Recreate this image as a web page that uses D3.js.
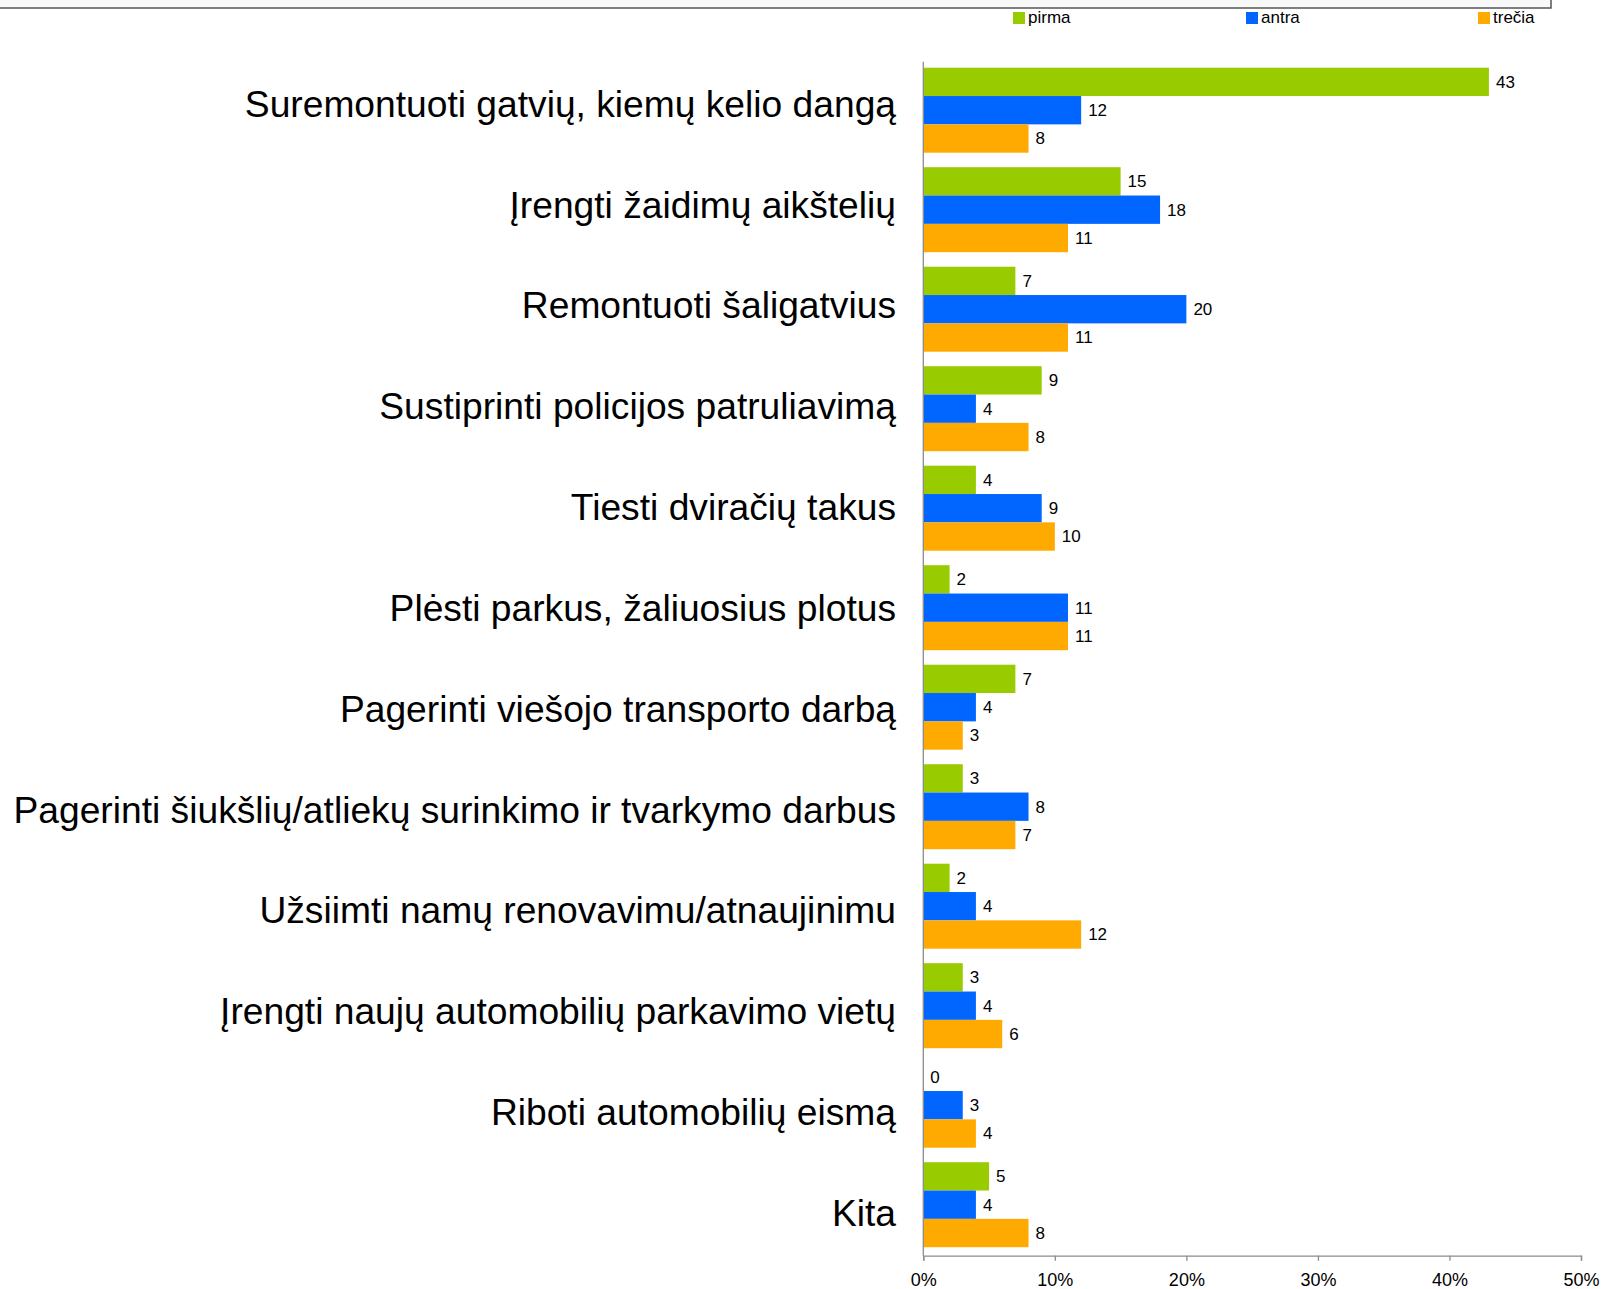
<!DOCTYPE html>
<html>
<head>
<meta charset="utf-8">
<script src="https://cdn.jsdelivr.net/npm/d3@7"></script>
<style>
  html, body { margin: 0; padding: 0; background: #fff; }
  svg { display: block; font-family: "Liberation Sans", Arial, sans-serif; }
</style>
</head>
<body>
<svg id="chart" width="1602" height="1289"></svg>
<script>
const categories = [
  "Suremontuoti gatvių, kiemų kelio dangą",
  "Įrengti žaidimų aikštelių",
  "Remontuoti šaligatvius",
  "Sustiprinti policijos patruliavimą",
  "Tiesti dviračių takus",
  "Plėsti parkus, žaliuosius plotus",
  "Pagerinti viešojo transporto darbą",
  "Pagerinti šiukšlių/atliekų surinkimo ir tvarkymo darbus",
  "Užsiimti namų renovavimu/atnaujinimu",
  "Įrengti naujų automobilių parkavimo vietų",
  "Riboti automobilių eismą",
  "Kita"
];
const seriesNames = ["pirma", "antra", "trečia"];
const pirma  = [43, 15, 7, 9, 4, 2, 7, 3, 2, 3, 0, 5];
const antra  = [12, 18, 20, 4, 9, 11, 4, 8, 4, 4, 3, 4];
const trecia = [8, 11, 11, 8, 10, 11, 3, 7, 12, 6, 4, 8];
const xTicks = [0, 10, 20, 30, 40, 50];
const colors = ["#99CC00", "#0066FF", "#FFAA00"];

const seriesValues = [pirma, antra, trecia];
const svg = d3.select("#chart");

// top frame strip
svg.append("rect").attr("x", -2).attr("y", -2).attr("width", 1553).attr("height", 10)
  .attr("fill", "#f8f8f8").attr("stroke", "#555").attr("stroke-width", 1.5);

const x = d3.scaleLinear().domain([0, 50]).range([923.3, 1581]);
const y = d3.scaleBand().domain(categories).range([60.45, 1254.45]).paddingInner(0.1457).paddingOuter(0.0729);
const ys = d3.scaleBand().domain(seriesNames).range([0, y.bandwidth()]);
// category label baselines (spaced slightly wider than the bar groups, as in the original)
const yLabel = d3.scalePoint().domain(categories).range([116.7, 1226]);

const plotTop = 61.7, plotBottom = 1255.7;

// bars
categories.forEach((cat, ci) => {
  const g = svg.append("g").attr("transform", `translate(0,${y(cat)})`);
  seriesNames.forEach((s, si) => {
    const v = seriesValues[si][ci];
    g.append("rect")
      .attr("x", x(0)).attr("y", ys(s))
      .attr("width", x(v) - x(0)).attr("height", ys.bandwidth())
      .attr("fill", colors[si]);
    g.append("text")
      .attr("x", x(v) + 7).attr("y", ys(s) + ys.bandwidth() / 2)
      .attr("dy", "0.35em")
      .attr("font-size", 17).attr("fill", "#000")
      .text(v);
  });
  svg.append("text")
    .attr("x", 896).attr("y", yLabel(cat))
    .attr("text-anchor", "end")
    .attr("font-size", 37.2).attr("fill", "#000")
    .text(cat);
});

// axes
svg.append("line").attr("x1", x(0)).attr("x2", x(0)).attr("y1", plotTop).attr("y2", plotBottom)
  .attr("stroke", "#8c8c8c").attr("stroke-width", 1.3);
const xAxis = d3.axisBottom(x).tickValues(xTicks).tickFormat(d => d + "%").tickSize(5).tickPadding(12.5);
const ax = svg.append("g").attr("transform", `translate(0,${plotBottom})`).call(xAxis);
ax.select(".domain").attr("stroke", "#8c8c8c").attr("stroke-width", 1.3);
ax.selectAll(".tick line").attr("stroke", "#8c8c8c").attr("stroke-width", 1.3);
ax.selectAll(".tick text").attr("font-size", 18).attr("fill", "#000")
  .attr("font-family", "'Liberation Sans', Arial, sans-serif");

// legend
const legendX = [1013, 1246, 1478];
seriesNames.forEach((s, i) => {
  svg.append("rect").attr("x", legendX[i]).attr("y", 12).attr("width", 12).attr("height", 12).attr("fill", colors[i]);
  svg.append("text").attr("x", legendX[i] + 15).attr("y", 22.5)
    .attr("font-size", 17).attr("fill", "#000").text(s);
});
</script>
</body>
</html>
